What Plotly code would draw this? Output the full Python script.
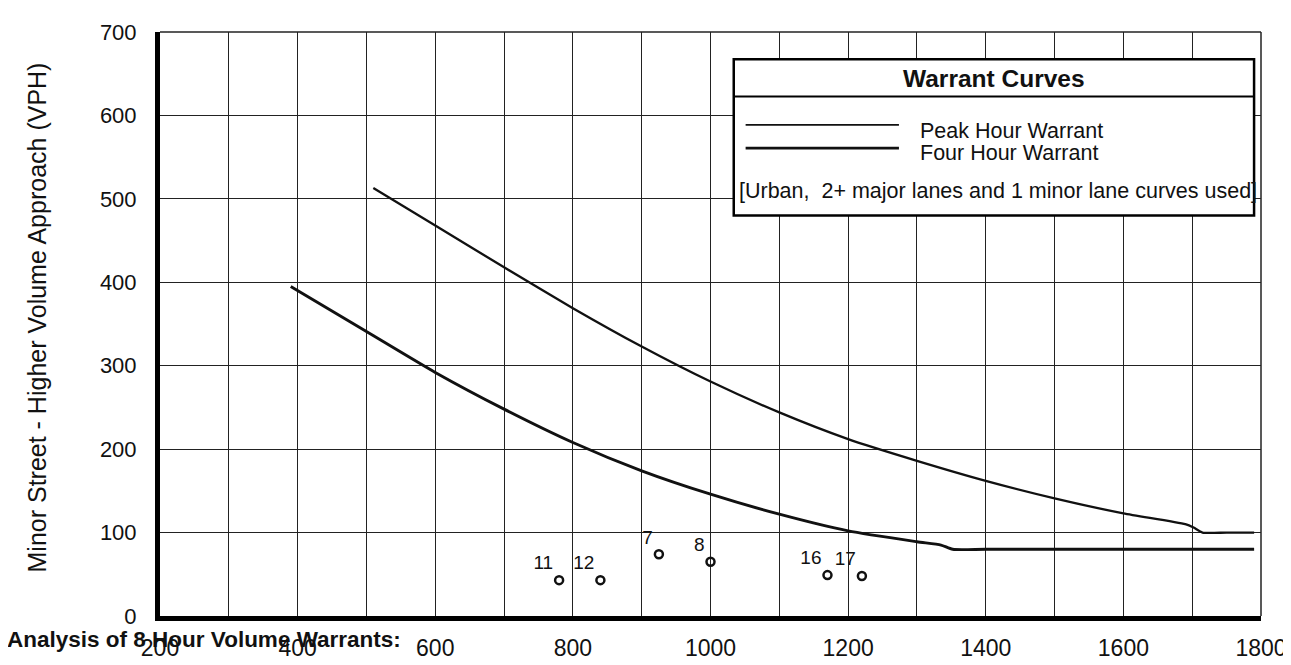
import plotly.graph_objects as go

# ---------------- data ----------------
peak_x = [510, 600, 700, 800, 900, 1000, 1100, 1200, 1300, 1400, 1500, 1600, 1690, 1702, 1715, 1750, 1790]
peak_y = [513, 468, 418, 369, 323, 281, 244, 212, 186, 162, 141, 123, 110, 106, 100, 100, 100]

four_x = [390, 500, 600, 700, 800, 900, 1000, 1100, 1200, 1300, 1335, 1352, 1400, 1600, 1790]
four_y = [395, 341, 292, 248, 208, 174, 146, 122, 102, 89, 85, 80, 80, 80, 80]

site_labels = ["11", "12", "7", "8", "16", "17"]
site_x = [780, 840, 925, 1000, 1170, 1220]
site_y = [43, 43, 74, 65, 49, 48]

x_ticks = [200, 400, 600, 800, 1000, 1200, 1400, 1600, 1800]
y_ticks = [0, 100, 200, 300, 400, 500, 600, 700]

# ---------------- layout constants ----------------
W, H = 1291, 665
L, R, T, B = 152, 1265, 24, 622
FONT = "Liberation Sans, Arial, sans-serif"


def px(xp):
    return (xp - L) / (R - L)


def py(yp):
    return (B - yp) / (B - T)


fig = go.Figure()

fig.add_trace(go.Scatter(x=peak_x, y=peak_y, mode="lines",
                         line=dict(color="#111111", width=2.3, shape="spline", smoothing=0.6),
                         name="Peak Hour Warrant", showlegend=False, hoverinfo="skip"))
fig.add_trace(go.Scatter(x=four_x, y=four_y, mode="lines",
                         line=dict(color="#111111", width=2.9, shape="spline", smoothing=0.6),
                         name="Four Hour Warrant", showlegend=False, hoverinfo="skip"))
fig.add_trace(go.Scatter(x=site_x, y=site_y, mode="markers+text", text=site_labels,
                         textposition="top left",
                         textfont=dict(family=FONT, size=19, color="#111111"),
                         marker=dict(symbol="circle-open", size=8, color="#111111",
                                     line=dict(width=2.5, color="#111111")),
                         showlegend=False))

grid_col = "#222222"
fig.update_xaxes(range=[200, 1800], tickmode="array", tickvals=x_ticks,
                 ticktext=[str(v) for v in x_ticks],
                 showgrid=True, gridcolor=grid_col, gridwidth=1,
                 minor=dict(dtick=100, showgrid=True, gridcolor=grid_col, gridwidth=1),
                 showline=True, linecolor="black", linewidth=5,
                 ticks="", ticklabelstandoff=7, zeroline=False,
                 tickfont=dict(family=FONT, size=23, color="#111111"))
fig.update_yaxes(range=[0, 700], tickmode="array", tickvals=y_ticks,
                 ticktext=[str(v) for v in y_ticks],
                 showgrid=True, gridcolor=grid_col, gridwidth=1,
                 showline=True, linecolor="black", linewidth=5,
                 ticks="", ticklabelstandoff=14, zeroline=False,
                 tickfont=dict(family=FONT, size=22, color="#111111"))

shapes = []
# top and right border lines
shapes.append(dict(type="line", xref="paper", yref="paper", x0=0, x1=1, y0=1, y1=1,
                   line=dict(color=grid_col, width=1.5)))
shapes.append(dict(type="line", xref="paper", yref="paper", x0=1, x1=1, y0=0, y1=1,
                   line=dict(color=grid_col, width=1.5)))
# legend box
shapes.append(dict(type="rect", xref="paper", yref="paper",
                   x0=px(732), x1=px(1258), y0=py(212), y1=py(52),
                   fillcolor="white", line=dict(color="black", width=2.5)))
shapes.append(dict(type="line", xref="paper", yref="paper",
                   x0=px(732), x1=px(1258), y0=py(90), y1=py(90),
                   line=dict(color="black", width=2)))
shapes.append(dict(type="line", xref="paper", yref="paper",
                   x0=px(744), x1=px(899), y0=py(119), y1=py(119),
                   line=dict(color="#111111", width=1.8)))
shapes.append(dict(type="line", xref="paper", yref="paper",
                   x0=px(744), x1=px(899), y0=py(143), y1=py(143),
                   line=dict(color="#111111", width=2.8)))

annotations = []
annotations.append(dict(text="<b>Warrant Curves</b>", xref="paper", yref="paper",
                        x=px(995), y=py(72), xanchor="center", yanchor="middle",
                        showarrow=False, font=dict(family=FONT, size=24.5, color="#111111")))
annotations.append(dict(text="Peak Hour Warrant", xref="paper", yref="paper",
                        x=px(918), y=py(125), xanchor="left", yanchor="middle",
                        showarrow=False, font=dict(family=FONT, size=21.5, color="#111111")))
annotations.append(dict(text="Four Hour Warrant", xref="paper", yref="paper",
                        x=px(918), y=py(148), xanchor="left", yanchor="middle",
                        showarrow=False, font=dict(family=FONT, size=21.5, color="#111111")))
annotations.append(dict(text="[Urban,\u00a0 2+ major lanes and 1 minor lane curves used]",
                        xref="paper", yref="paper",
                        x=px(735), y=py(187), xanchor="left", yanchor="middle",
                        showarrow=False, font=dict(family=FONT, size=21.5, color="#111111")))
annotations.append(dict(text="Minor Street - Higher Volume Approach (VPH)",
                        xref="paper", yref="paper", textangle=-90,
                        x=px(28), y=py(316), xanchor="center", yanchor="middle",
                        showarrow=False, font=dict(family=FONT, size=25, color="#111111")))
annotations.append(dict(text="<b>Analysis of 8 Hour Volume Warrants:</b>",
                        xref="paper", yref="paper",
                        x=px(-5), y=py(646), xanchor="left", yanchor="middle",
                        showarrow=False, font=dict(family=FONT, size=22.5, color="#111111")))

fig.update_layout(width=W, height=H, margin=dict(l=L, r=W - R, t=T, b=H - B),
                  paper_bgcolor="white", plot_bgcolor="white",
                  shapes=shapes, annotations=annotations, showlegend=False)

fig.write_html("out.html")
